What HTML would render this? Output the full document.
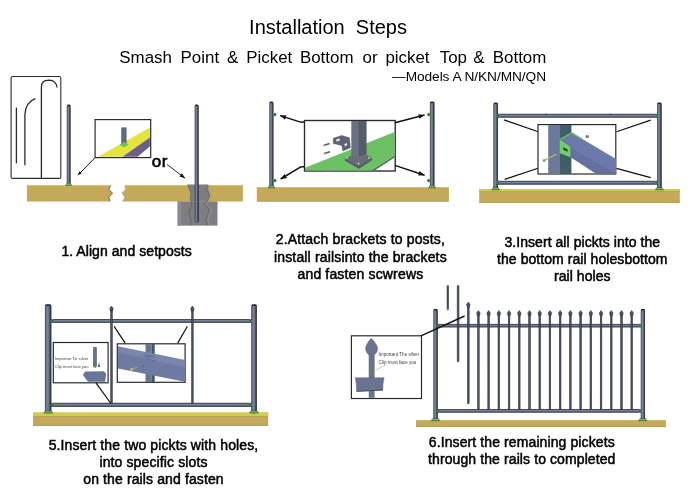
<!DOCTYPE html>
<html><head><meta charset="utf-8"><style>
html,body{margin:0;padding:0;background:#fff;width:700px;height:495px;overflow:hidden}
svg{display:block;will-change:transform}
text{font-family:"Liberation Sans",sans-serif}
</style></head><body>
<svg width="700" height="495" viewBox="0 0 700 495">
<text x="249.1" y="33.8" font-size="20" text-anchor="start" font-weight="normal" fill="#000" >Installation  Steps</text>
<text x="119.34117647058822" y="63.0" font-size="16.9" text-anchor="start" font-weight="normal" fill="#000" >Smash</text>
<text x="180.59607843137255" y="63.0" font-size="16.9" text-anchor="start" font-weight="normal" fill="#000" >Point</text>
<text x="226.97254901960784" y="63.0" font-size="16.9" text-anchor="start" font-weight="normal" fill="#000" >&amp;</text>
<text x="246.2392156862745" y="63.0" font-size="16.9" text-anchor="start" font-weight="normal" fill="#000" >Picket</text>
<text x="299.9568627450981" y="63.0" font-size="16.9" text-anchor="start" font-weight="normal" fill="#000" >Bottom</text>
<text x="362.54509803921565" y="63.0" font-size="16.9" text-anchor="start" font-weight="normal" fill="#000" >or</text>
<text x="385.3764705882353" y="63.0" font-size="16.9" text-anchor="start" font-weight="normal" fill="#000" >picket</text>
<text x="439.7725490196078" y="63.0" font-size="16.9" text-anchor="start" font-weight="normal" fill="#000" >Top</text>
<text x="473.2901960784314" y="63.0" font-size="16.9" text-anchor="start" font-weight="normal" fill="#000" >&amp;</text>
<text x="492.7960784313726" y="63.0" font-size="16.9" text-anchor="start" font-weight="normal" fill="#000" >Bottom</text>
<text x="392.0" y="80.8" font-size="13.7" text-anchor="start" font-weight="normal" fill="#000" letter-spacing="-0.06">—Models A N/KN/MN/QN</text>
<text x="61.4" y="255.7" font-size="14" text-anchor="start" font-weight="normal" fill="#000" stroke="#000" stroke-width="0.5" letter-spacing="0.06">1. Align and setposts</text>
<text x="360.4" y="243.8" font-size="14" text-anchor="middle" font-weight="normal" fill="#000" stroke="#000" stroke-width="0.5" letter-spacing="0.16">2.Attach brackets to posts,</text>
<text x="360.4" y="261.6" font-size="14" text-anchor="middle" font-weight="normal" fill="#000" stroke="#000" stroke-width="0.5" letter-spacing="0.16">install railsinto the brackets</text>
<text x="360.4" y="279.3" font-size="14" text-anchor="middle" font-weight="normal" fill="#000" stroke="#000" stroke-width="0.5" letter-spacing="0.16">and fasten scwrews</text>
<text x="582.3" y="247.3" font-size="14" text-anchor="middle" font-weight="normal" fill="#000" stroke="#000" stroke-width="0.5" letter-spacing="0.06">3.Insert all pickts into the</text>
<text x="582.3" y="264.4" font-size="14" text-anchor="middle" font-weight="normal" fill="#000" stroke="#000" stroke-width="0.5" letter-spacing="0.06">the bottom rail holesbottom</text>
<text x="582.3" y="281.3" font-size="14" text-anchor="middle" font-weight="normal" fill="#000" stroke="#000" stroke-width="0.5" letter-spacing="0.06">rail holes</text>
<text x="153.5" y="449.5" font-size="14" text-anchor="middle" font-weight="normal" fill="#000" stroke="#000" stroke-width="0.5" letter-spacing="0.12">5.Insert the two pickts with holes,</text>
<text x="153.5" y="466.6" font-size="14" text-anchor="middle" font-weight="normal" fill="#000" stroke="#000" stroke-width="0.5" letter-spacing="0.12">into specific slots</text>
<text x="153.5" y="483.8" font-size="14" text-anchor="middle" font-weight="normal" fill="#000" stroke="#000" stroke-width="0.5" letter-spacing="0.12">on the rails and fasten</text>
<text x="521.8" y="446.7" font-size="14" text-anchor="middle" font-weight="normal" fill="#000" stroke="#000" stroke-width="0.5" letter-spacing="0.1">6.Insert the remaining pickets</text>
<text x="521.8" y="463.8" font-size="14" text-anchor="middle" font-weight="normal" fill="#000" stroke="#000" stroke-width="0.5" letter-spacing="0.1">through the rails to completed</text>
<rect x="11.1" y="76.5" width="49.7" height="101.9" rx="1.5" fill="#fff" stroke="#2a2d32" stroke-width="1.1"/>
<line x1="16.4" y1="107.6" x2="16.4" y2="163.3" stroke="#2a2a2a" stroke-width="1.3"/>
<path d="M24.9 165.3 L24.9 114.8 Q25.5 102 35.3 98.6" fill="none" stroke="#2a2a2a" stroke-width="1.3"/>
<path d="M41.4 177.9 L41.4 87 Q41.4 80.2 49 80.2 Q56 80.5 57.1 87.5" fill="none" stroke="#2a2a2a" stroke-width="1.3"/>
<path d="M26.9 184.9 L111 184.9 L108.8 189.7 L112.6 193 L108.8 197.4 L110 201.4 L26.9 201.4 Z" fill="#c4a95a"/>
<path d="M111 184.9 L108.8 189.7 L112.6 193 L108.8 197.4 L110 201.4" fill="none" stroke="#4a4a50" stroke-width="0.8"/>
<path d="M124.9 184.9 L242.9 184.9 L242.9 201.5 L122.5 201.5 L124.8 197.4 L122 193 L125.5 189.7 Z" fill="#c4a95a"/>
<path d="M124.9 184.9 L125.5 189.7 L122 193 L124.8 197.4 L122.5 201.5" fill="none" stroke="#9a9aa0" stroke-width="0.6"/>
<rect x="26.9" y="184.9" width="84" height="1.2" fill="#d8cb46"/>
<rect x="124.9" y="184.9" width="118" height="1.2" fill="#d8cb46"/>
<rect x="177.6" y="201.4" width="39.9" height="24.2" fill="#7e7e81"/>
<rect x="177.6" y="201.4" width="3.4" height="24.2" fill="#8c8c8f"/>
<path d="M187.7 184.6 L191.2 193.6 L190.2 197.7 L191.2 201.5 L177.6 201.5 L177.6 201.4 L217.5 201.4 L210 201.4 L207.9 200.2 L209.9 195.2 L207.4 184.6 Z" fill="#7e7e81"/>
<path d="M187.7 184.6 L191.2 193.6 L190.2 197.7 L191.7 204.7 L188.7 213.3 L191.2 220.4 L190.7 225.4" fill="none" stroke="#55565c" stroke-width="0.7"/>
<path d="M207.4 184.6 L208.4 186.6 L205.8 189 L209.9 195.2 L207.9 200.2 L204.3 204.2 L209.4 209.3 L207.4 215.4 L205.8 219.4 L207.4 225.4" fill="none" stroke="#5a5b60" stroke-width="0.7"/>
<path d="M209.5 184.6 L210.4 186.6 L207.8 189 L211.9 195.2 L209.9 200.2 L206.3 204.2 L211.4 209.3 L209.4 215.4 L207.8 219.4 L209.4 225.4" fill="none" stroke="#a0a0a4" stroke-width="0.6"/>
<rect x="195.05" y="105.05" width="3.20" height="117.10" rx="1.17" ry="1" fill="#5a6479" stroke="#2a2e38" stroke-width="0.7"/>
<rect x="195.56" y="106.30" width="1.40" height="115.60" fill="#8492ad" opacity="0.7"/>
<rect x="197.62" y="105.70" width="0.98" height="116.30" fill="#2a2e38" opacity="0.65"/>
<rect x="195.00" y="104.70" width="3.30" height="1.3" rx="0.5" fill="#202329"/>
<rect x="67.15" y="105.05" width="3.00" height="79.60" rx="1.11" ry="1" fill="#5a6479" stroke="#2a2e38" stroke-width="0.7"/>
<rect x="67.61" y="106.30" width="1.33" height="78.10" fill="#8492ad" opacity="0.7"/>
<rect x="69.58" y="105.70" width="0.93" height="78.80" fill="#2a2e38" opacity="0.65"/>
<rect x="67.10" y="104.70" width="3.10" height="1.3" rx="0.5" fill="#202329"/>
<path d="M65.65 185.40 L67.25 183.10 L70.05 183.10 L71.65 185.40 Z" fill="#5ec654" stroke="#2f3b3a" stroke-width="0.55"/>
<rect x="95.1" y="119.6" width="55.599999999999994" height="38.0" fill="#fff" stroke="#262a30" stroke-width="1.19"/>
<polygon points="98,156.8 149.9,127.4 149.9,137.6 122.5,156.8" fill="#e4e43a"/>
<polygon points="122.5,156.8 149.9,137.6 149.9,146.6 137.5,156.8" fill="#6e5f86"/>
<rect x="121.2" y="127.4" width="5.4" height="17" fill="#5e6b7e"/>
<polygon points="119.5,144.7 124,142 128.5,144.7 124,147.3" fill="#5fc85a"/>
<line x1="95.1" y1="157.6" x2="79" y2="174" stroke="#111" stroke-width="1.0"/>
<polygon points="77.5,175.5 79.5,171.2 81.8,173.3" fill="#111"/>
<text x="151.8" y="166.8" font-size="17" text-anchor="start" font-weight="normal" fill="#000" stroke="#000" stroke-width="0.6" letter-spacing="0.5">or</text>
<line x1="167" y1="164.4" x2="185" y2="178.2" stroke="#111" stroke-width="0.9"/>
<polygon points="185.00,178.20 179.47,176.54 181.96,173.29" fill="#111"/>
<rect x="256.8" y="187.1" width="192.10" height="14.40" fill="#c4a95a"/>
<rect x="256.8" y="187.1" width="192.10" height="1.3" fill="#d0cd48"/>
<rect x="256.8" y="188.40" width="192.10" height="0.6" fill="#b8a04e"/>
<rect x="256.8" y="200.70" width="192.10" height="0.8" fill="#b39a50"/>
<rect x="269.75" y="102.05" width="3.30" height="84.80" rx="1.20" ry="1" fill="#5a6479" stroke="#2a2e38" stroke-width="0.7"/>
<rect x="270.28" y="103.30" width="1.44" height="83.30" fill="#8492ad" opacity="0.7"/>
<rect x="272.40" y="102.70" width="1.00" height="84.00" fill="#2a2e38" opacity="0.65"/>
<rect x="269.70" y="101.70" width="3.40" height="1.3" rx="0.5" fill="#202329"/>
<rect x="430.35" y="102.05" width="3.70" height="84.80" rx="1.32" ry="1" fill="#5a6479" stroke="#2a2e38" stroke-width="0.7"/>
<rect x="430.97" y="103.30" width="1.58" height="83.30" fill="#8492ad" opacity="0.7"/>
<rect x="433.30" y="102.70" width="1.10" height="84.00" fill="#2a2e38" opacity="0.65"/>
<rect x="430.30" y="101.70" width="3.80" height="1.3" rx="0.5" fill="#202329"/>
<ellipse cx="274.8" cy="114.6" rx="1.5" ry="1.35" fill="#34503a" stroke="#48b048" stroke-width="0.8"/>
<ellipse cx="274.8" cy="180.6" rx="1.5" ry="1.35" fill="#34503a" stroke="#48b048" stroke-width="0.8"/>
<ellipse cx="428.8" cy="114.6" rx="1.5" ry="1.35" fill="#34503a" stroke="#48b048" stroke-width="0.8"/>
<ellipse cx="428.8" cy="180.6" rx="1.5" ry="1.35" fill="#34503a" stroke="#48b048" stroke-width="0.8"/>
<path d="M267.90 187.70 L269.50 185.40 L273.30 185.40 L274.90 187.70 Z" fill="#5ec654" stroke="#2f3b3a" stroke-width="0.55"/>
<path d="M428.70 187.70 L430.30 185.40 L434.10 185.40 L435.70 187.70 Z" fill="#5ec654" stroke="#2f3b3a" stroke-width="0.55"/>
<rect x="304.5" y="120.5" width="90.69999999999999" height="50.5" fill="#fff" stroke="#262a30" stroke-width="1.36"/>
<svg x="305.3" y="121.3" width="89.1" height="48.9" viewBox="305.3 121.3 89.1 48.9">
<polygon points="305,167.8 394.5,132 394.5,155.7 371.4,170.5 305,170.5" fill="#6cc262"/>
<polygon points="371.4,170.5 394.5,155.7 394.5,157.6 374.5,170.5" fill="#3e6e60"/>
<path d="M333.3 138.3 L341.8 135.4 L349.4 137.8 L350.4 147.8 L342.8 151.1 L341.8 145.4 L333.3 143.5 Z" fill="#5d6373" stroke="#454a57" stroke-width="0.4"/>
<polygon points="336.3,139.5 339.8,138.4 339.8,140.6 336.3,141.6" fill="#f2f2f2"/>
<polygon points="344.5,144 347,143 347,145.5 344.5,146.3" fill="#e8e8e8"/>
<path d="M323.8 145.6 L329.5 143.6" stroke="#5a5e66" stroke-width="1.6"/>
<path d="M324.3 153.6 L330 151.7" stroke="#5a5e66" stroke-width="1.6"/>
<circle cx="324.3" cy="145.5" r="1.1" fill="#a89f70"/>
<circle cx="324.8" cy="153.5" r="1.1" fill="#a89f70"/>
<polygon points="351.3,121 359,121 359,156.8 351.3,156" fill="#6b7083"/>
<polygon points="359,121 366.6,121 366.6,154.8 359,156.8" fill="#575c6c"/>
<line x1="359" y1="121" x2="359" y2="156.8" stroke="#4a4f5c" stroke-width="0.4"/>
<polygon points="344.7,158.7 351.3,155.4 359,156.8 366.8,155 372.2,158.2 358.9,166.5" fill="#666b7e"/>
<polygon points="344.7,158.7 358.9,166.5 372.2,158.2 372.2,160 358.9,168.7 344.7,160.5" fill="#4f5466"/>
<circle cx="347.3" cy="157.9" r="0.9" fill="#d8cf8a"/>
<circle cx="368.9" cy="157.9" r="0.9" fill="#d8cf8a"/>
<circle cx="358.5" cy="163.6" r="1" fill="#d8cf8a"/>
</svg>
<line x1="304.3" y1="122.1" x2="300.3" y2="122.1" stroke="#111" stroke-width="1.5"/>
<line x1="300.6" y1="122.1" x2="280" y2="115.6" stroke="#111" stroke-width="1.5"/>
<polygon points="280.00,115.60 286.43,115.16 285.01,119.65" fill="#111"/>
<line x1="304.3" y1="166.8" x2="300.5" y2="166.8" stroke="#111" stroke-width="1.5"/>
<line x1="300.8" y1="166.8" x2="280.6" y2="179" stroke="#111" stroke-width="1.5"/>
<polygon points="280.60,179.00 284.52,173.89 286.95,177.91" fill="#111"/>
<line x1="394.9" y1="122.8" x2="424.6" y2="115" stroke="#111" stroke-width="1.5"/>
<polygon points="424.60,115.00 419.39,118.80 418.20,114.25" fill="#111"/>
<line x1="394.9" y1="165.4" x2="424.6" y2="175.2" stroke="#111" stroke-width="1.5"/>
<polygon points="424.60,175.20 418.17,175.55 419.64,171.09" fill="#111"/>
<rect x="479.2" y="189.1" width="200.60" height="13.70" fill="#c4a95a"/>
<rect x="479.2" y="189.1" width="200.60" height="2.0" fill="#d0cd48"/>
<rect x="479.2" y="191.10" width="200.60" height="0.6" fill="#b8a04e"/>
<rect x="479.2" y="202.00" width="200.60" height="0.8" fill="#b39a50"/>
<rect x="497" y="114.15" width="161.00" height="3.10" fill="#5a6479" stroke="#262a33" stroke-width="0.7"/>
<rect x="498" y="114.94" width="159.00" height="1.06" fill="#8c98b0" opacity="0.65"/>
<rect x="545.40" y="113.80" width="1.2" height="1.3" fill="#1e2128"/>
<rect x="610.00" y="113.80" width="1.2" height="1.3" fill="#1e2128"/>
<rect x="497" y="181.15" width="161.00" height="3.10" fill="#5a6479" stroke="#262a33" stroke-width="0.7"/>
<rect x="498" y="181.94" width="159.00" height="1.06" fill="#8c98b0" opacity="0.65"/>
<rect x="493.75" y="103.15" width="3.80" height="86.00" rx="1.35" ry="1" fill="#5a6479" stroke="#2a2e38" stroke-width="0.7"/>
<rect x="494.39" y="104.40" width="1.62" height="84.50" fill="#8492ad" opacity="0.7"/>
<rect x="496.77" y="103.80" width="1.12" height="85.20" fill="#2a2e38" opacity="0.65"/>
<rect x="493.70" y="102.80" width="3.90" height="1.3" rx="0.5" fill="#202329"/>
<rect x="657.55" y="103.05" width="3.70" height="86.30" rx="1.32" ry="1" fill="#5a6479" stroke="#2a2e38" stroke-width="0.7"/>
<rect x="658.17" y="104.30" width="1.58" height="84.80" fill="#8492ad" opacity="0.7"/>
<rect x="660.50" y="103.70" width="1.10" height="85.50" fill="#2a2e38" opacity="0.65"/>
<rect x="657.50" y="102.70" width="3.80" height="1.3" rx="0.5" fill="#202329"/>
<ellipse cx="498.5" cy="115.8" rx="1.4" ry="1.26" fill="#34503a" stroke="#48b048" stroke-width="0.8"/>
<ellipse cx="498.5" cy="182.5" rx="1.4" ry="1.26" fill="#34503a" stroke="#48b048" stroke-width="0.8"/>
<ellipse cx="656.3" cy="115.8" rx="1.4" ry="1.26" fill="#34503a" stroke="#48b048" stroke-width="0.8"/>
<ellipse cx="656.3" cy="182.5" rx="1.4" ry="1.26" fill="#34503a" stroke="#48b048" stroke-width="0.8"/>
<path d="M491.65 189.80 L493.25 187.50 L498.05 187.50 L499.65 189.80 Z" fill="#5ec654" stroke="#2f3b3a" stroke-width="0.55"/>
<path d="M655.40 189.80 L657.00 187.50 L661.80 187.50 L663.40 189.80 Z" fill="#5ec654" stroke="#2f3b3a" stroke-width="0.55"/>
<line x1="503.9" y1="119.9" x2="538.3" y2="131.7" stroke="#111" stroke-width="1.2"/>
<line x1="504.6" y1="179.4" x2="538" y2="168.3" stroke="#111" stroke-width="1.2"/>
<line x1="616.5" y1="131.7" x2="650.7" y2="120.1" stroke="#111" stroke-width="1.2"/>
<line x1="616.5" y1="168.3" x2="650.7" y2="177.6" stroke="#111" stroke-width="1.2"/>
<rect x="538" y="124.6" width="77.79999999999995" height="49.400000000000006" fill="#fff" stroke="#262a30" stroke-width="1.19"/>
<svg x="538.7" y="125.3" width="76.4" height="48" viewBox="538.7 125.3 76.4 48">
<rect x="548.2" y="125" width="11.8" height="49" fill="#6b7a9b"/>
<rect x="560" y="125" width="11.4" height="49" fill="#3f5e68"/>
<polygon points="570.5,146.8 616,173 616,175 598,175 570.5,157.3" fill="#6670a0"/>
<polygon points="560.5,139.5 571.8,132.7 616,159 616,173 570.5,146.8" fill="#6c79ab"/>
<line x1="570.7" y1="146.6" x2="616" y2="172.8" stroke="#56609a" stroke-width="0.5"/>
<polygon points="559.8,139.5 570.5,146.8 570.5,157.3 559.8,153.2" fill="#6fd06a"/>
<polyline points="560.2,139.3 571.8,132.7 582.7,139.5" fill="none" stroke="#5cc85a" stroke-width="1.4"/>
<polygon points="563.2,147.3 567.7,149.5 567.7,151.8 563.2,149.8" fill="#2e3450"/>
<line x1="544.1" y1="160.5" x2="556.4" y2="154.1" stroke="#b5ad7c" stroke-width="1.3"/>
<circle cx="544.1" cy="160.5" r="1.5" fill="#9d9870"/>
<circle cx="587.3" cy="136.4" r="1.7" fill="#6a6a6a"/>
<circle cx="587.8" cy="135.8" r="0.7" fill="#d0c890"/>
</svg>
<rect x="33.0" y="412.6" width="235.20" height="13.30" fill="#c4a95a"/>
<rect x="33.0" y="412.6" width="235.20" height="3.4" fill="#d0cd48"/>
<rect x="33.0" y="416.00" width="235.20" height="0.6" fill="#b8a04e"/>
<rect x="33.0" y="425.10" width="235.20" height="0.8" fill="#b39a50"/>
<rect x="51" y="319.35" width="201.00" height="3.10" fill="#5a6479" stroke="#262a33" stroke-width="0.7"/>
<rect x="52" y="320.14" width="199.00" height="1.06" fill="#8c98b0" opacity="0.65"/>
<rect x="51" y="403.15" width="201.00" height="3.40" fill="#5a6479" stroke="#262a33" stroke-width="0.7"/>
<rect x="52" y="404.03" width="199.00" height="1.15" fill="#8c98b0" opacity="0.65"/>
<rect x="110.70" y="310" width="1.6" height="93.5" fill="#485064" stroke="#2a2e38" stroke-width="0.55"/>
<path d="M111.50 306 L113.30 308.6 L112.50 311.2 L110.50 311.2 L109.70 308.6 Z" fill="#485064" stroke="#2a2e38" stroke-width="0.5"/>
<rect x="191.60" y="310" width="1.6" height="93.5" fill="#485064" stroke="#2a2e38" stroke-width="0.55"/>
<path d="M192.40 306 L194.20 308.6 L193.40 311.2 L191.40 311.2 L190.60 308.6 Z" fill="#485064" stroke="#2a2e38" stroke-width="0.5"/>
<rect x="45.35" y="304.85" width="5.60" height="108.00" rx="1.89" ry="1" fill="#5a6479" stroke="#2a2e38" stroke-width="0.7"/>
<rect x="46.39" y="306.10" width="2.27" height="106.50" fill="#8492ad" opacity="0.7"/>
<rect x="49.72" y="305.50" width="1.57" height="107.20" fill="#2a2e38" opacity="0.65"/>
<rect x="45.30" y="304.50" width="5.70" height="1.3" rx="0.5" fill="#202329"/>
<rect x="251.65" y="304.85" width="4.80" height="108.00" rx="1.65" ry="1" fill="#5a6479" stroke="#2a2e38" stroke-width="0.7"/>
<rect x="252.51" y="306.10" width="1.98" height="106.50" fill="#8492ad" opacity="0.7"/>
<rect x="255.43" y="305.50" width="1.38" height="107.20" fill="#2a2e38" opacity="0.65"/>
<rect x="251.60" y="304.50" width="4.90" height="1.3" rx="0.5" fill="#202329"/>
<ellipse cx="52.5" cy="320.9" rx="1.5" ry="1.35" fill="#34503a" stroke="#48b048" stroke-width="0.8"/>
<ellipse cx="52.5" cy="404.8" rx="1.5" ry="1.35" fill="#34503a" stroke="#48b048" stroke-width="0.8"/>
<ellipse cx="250.2" cy="320.9" rx="1.5" ry="1.35" fill="#34503a" stroke="#48b048" stroke-width="0.8"/>
<ellipse cx="250.2" cy="404.8" rx="1.5" ry="1.35" fill="#34503a" stroke="#48b048" stroke-width="0.8"/>
<path d="M43.70 413.00 L45.30 410.70 L51.10 410.70 L52.70 413.00 Z" fill="#5ec654" stroke="#2f3b3a" stroke-width="0.55"/>
<path d="M249.50 413.00 L251.10 410.70 L256.90 410.70 L258.50 413.00 Z" fill="#5ec654" stroke="#2f3b3a" stroke-width="0.55"/>
<rect x="53.3" y="342.5" width="54.8" height="40.30000000000001" fill="#fff" stroke="#262a30" stroke-width="1.19"/>
<text x="54.8" y="360.3" font-size="4.1" fill="#444">Importan:Tie silver</text>
<text x="54.8" y="367.9" font-size="4.1" fill="#444">Clip must face you</text>
<rect x="93" y="347.1" width="3.9" height="20" rx="1" fill="#6a7388"/>
<ellipse cx="95" cy="360.4" rx="0.9" ry="0.81" fill="#34503a" stroke="#48b048" stroke-width="0.8"/>
<ellipse cx="95" cy="366.7" rx="0.9" ry="0.81" fill="#34503a" stroke="#48b048" stroke-width="0.8"/>
<path d="M99 362 L100 367 L98 367 Z" fill="#3344cc"/>
<path d="M85 371.5 L104 371.3 L106.3 374 L105 381.8 L88 381.8 L83 375 Z" fill="#6a7699"/>
<line x1="96" y1="382.8" x2="110.5" y2="403" stroke="#111" stroke-width="1.2"/>
<rect x="117.3" y="343.8" width="67.8" height="38.5" fill="#fff" stroke="#262a30" stroke-width="1.19"/>
<svg x="118" y="344.5" width="66.4" height="37.1" viewBox="118 344.5 66.4 37.1">
<rect x="145.5" y="343" width="6" height="40" fill="#66768f"/>
<rect x="151.5" y="343" width="3.2" height="40" fill="#3f5c63"/>
<polygon points="117,346 185,360.1 185,367.7 117,352" fill="#7a86ab"/>
<polygon points="117,352 185,367.7 185,381.8 117,368.4" fill="#6e7aa2"/>
<line x1="117" y1="352" x2="185" y2="367.7" stroke="#5c6690" stroke-width="0.5"/>
<polygon points="142.8,355.2 145.5,354 154.7,356 155.8,357.4 147,358" fill="#6a759a"/>
</svg>
<circle cx="131.4" cy="369.5" r="1.3" fill="#d2c860"/>
<line x1="131.8" y1="369.2" x2="136.8" y2="367.5" stroke="#c8c070" stroke-width="0.8"/>
<circle cx="143.3" cy="366" r="0.7" fill="#555d80"/>
<line x1="114.1" y1="326.3" x2="125.2" y2="343.1" stroke="#111" stroke-width="1.2"/>
<line x1="187.4" y1="326.3" x2="177.7" y2="343.1" stroke="#111" stroke-width="1.2"/>
<rect x="416" y="420.2" width="250.00" height="6.70" fill="#c4a95a"/>
<rect x="416" y="426.10" width="250.00" height="0.8" fill="#b39a50"/>
<rect x="437.6" y="324.25" width="203.40" height="2.80" fill="#5a6479" stroke="#262a33" stroke-width="0.7"/>
<rect x="438.6" y="324.95" width="201.40" height="0.98" fill="#8c98b0" opacity="0.65"/>
<rect x="437.6" y="409.35" width="203.40" height="2.90" fill="#5a6479" stroke="#262a33" stroke-width="0.7"/>
<rect x="438.6" y="410.08" width="201.40" height="1.01" fill="#8c98b0" opacity="0.65"/>
<rect x="477.60" y="314.5" width="1.6" height="95.0" fill="#485064" stroke="#2a2e38" stroke-width="0.55"/>
<path d="M478.40 310.5 L480.20 313.1 L479.40 315.7 L477.40 315.7 L476.60 313.1 Z" fill="#485064" stroke="#2a2e38" stroke-width="0.5"/>
<rect x="487.82" y="314.5" width="1.6" height="95.0" fill="#485064" stroke="#2a2e38" stroke-width="0.55"/>
<path d="M488.62 310.5 L490.42 313.1 L489.62 315.7 L487.62 315.7 L486.82 313.1 Z" fill="#485064" stroke="#2a2e38" stroke-width="0.5"/>
<rect x="498.04" y="314.5" width="1.6" height="95.0" fill="#485064" stroke="#2a2e38" stroke-width="0.55"/>
<path d="M498.84 310.5 L500.64 313.1 L499.84 315.7 L497.84 315.7 L497.04 313.1 Z" fill="#485064" stroke="#2a2e38" stroke-width="0.5"/>
<rect x="508.26" y="314.5" width="1.6" height="95.0" fill="#485064" stroke="#2a2e38" stroke-width="0.55"/>
<path d="M509.06 310.5 L510.86 313.1 L510.06 315.7 L508.06 315.7 L507.26 313.1 Z" fill="#485064" stroke="#2a2e38" stroke-width="0.5"/>
<rect x="518.48" y="314.5" width="1.6" height="95.0" fill="#485064" stroke="#2a2e38" stroke-width="0.55"/>
<path d="M519.28 310.5 L521.08 313.1 L520.28 315.7 L518.28 315.7 L517.48 313.1 Z" fill="#485064" stroke="#2a2e38" stroke-width="0.5"/>
<rect x="528.70" y="314.5" width="1.6" height="95.0" fill="#485064" stroke="#2a2e38" stroke-width="0.55"/>
<path d="M529.50 310.5 L531.30 313.1 L530.50 315.7 L528.50 315.7 L527.70 313.1 Z" fill="#485064" stroke="#2a2e38" stroke-width="0.5"/>
<rect x="538.92" y="314.5" width="1.6" height="95.0" fill="#485064" stroke="#2a2e38" stroke-width="0.55"/>
<path d="M539.72 310.5 L541.52 313.1 L540.72 315.7 L538.72 315.7 L537.92 313.1 Z" fill="#485064" stroke="#2a2e38" stroke-width="0.5"/>
<rect x="549.14" y="314.5" width="1.6" height="95.0" fill="#485064" stroke="#2a2e38" stroke-width="0.55"/>
<path d="M549.94 310.5 L551.74 313.1 L550.94 315.7 L548.94 315.7 L548.14 313.1 Z" fill="#485064" stroke="#2a2e38" stroke-width="0.5"/>
<rect x="559.36" y="314.5" width="1.6" height="95.0" fill="#485064" stroke="#2a2e38" stroke-width="0.55"/>
<path d="M560.16 310.5 L561.96 313.1 L561.16 315.7 L559.16 315.7 L558.36 313.1 Z" fill="#485064" stroke="#2a2e38" stroke-width="0.5"/>
<rect x="569.58" y="314.5" width="1.6" height="95.0" fill="#485064" stroke="#2a2e38" stroke-width="0.55"/>
<path d="M570.38 310.5 L572.18 313.1 L571.38 315.7 L569.38 315.7 L568.58 313.1 Z" fill="#485064" stroke="#2a2e38" stroke-width="0.5"/>
<rect x="579.80" y="314.5" width="1.6" height="95.0" fill="#485064" stroke="#2a2e38" stroke-width="0.55"/>
<path d="M580.60 310.5 L582.40 313.1 L581.60 315.7 L579.60 315.7 L578.80 313.1 Z" fill="#485064" stroke="#2a2e38" stroke-width="0.5"/>
<rect x="590.02" y="314.5" width="1.6" height="95.0" fill="#485064" stroke="#2a2e38" stroke-width="0.55"/>
<path d="M590.82 310.5 L592.62 313.1 L591.82 315.7 L589.82 315.7 L589.02 313.1 Z" fill="#485064" stroke="#2a2e38" stroke-width="0.5"/>
<rect x="600.24" y="314.5" width="1.6" height="95.0" fill="#485064" stroke="#2a2e38" stroke-width="0.55"/>
<path d="M601.04 310.5 L602.84 313.1 L602.04 315.7 L600.04 315.7 L599.24 313.1 Z" fill="#485064" stroke="#2a2e38" stroke-width="0.5"/>
<rect x="610.46" y="314.5" width="1.6" height="95.0" fill="#485064" stroke="#2a2e38" stroke-width="0.55"/>
<path d="M611.26 310.5 L613.06 313.1 L612.26 315.7 L610.26 315.7 L609.46 313.1 Z" fill="#485064" stroke="#2a2e38" stroke-width="0.5"/>
<rect x="620.68" y="314.5" width="1.6" height="95.0" fill="#485064" stroke="#2a2e38" stroke-width="0.55"/>
<path d="M621.48 310.5 L623.28 313.1 L622.48 315.7 L620.48 315.7 L619.68 313.1 Z" fill="#485064" stroke="#2a2e38" stroke-width="0.5"/>
<rect x="630.90" y="314.5" width="1.6" height="95.0" fill="#485064" stroke="#2a2e38" stroke-width="0.55"/>
<path d="M631.70 310.5 L633.50 313.1 L632.70 315.7 L630.70 315.7 L629.90 313.1 Z" fill="#485064" stroke="#2a2e38" stroke-width="0.5"/>
<rect x="467.45" y="306" width="1.7" height="97.60000000000002" fill="#485064" stroke="#2a2e38" stroke-width="0.55"/>
<path d="M468.30 302 L470.10 304.6 L469.30 307.2 L467.30 307.2 L466.50 304.6 Z" fill="#485064" stroke="#2a2e38" stroke-width="0.5"/>
<rect x="447.05" y="285.4" width="1.5" height="24.400000000000034" rx="0.6" fill="#485064" stroke="#2a2e38" stroke-width="0.55"/>
<ellipse cx="447.8" cy="309.2" rx="0.7" ry="0.63" fill="#34503a" stroke="#48b048" stroke-width="0.8"/>
<rect x="457.25" y="285.4" width="1.7" height="76.40000000000003" rx="0.6" fill="#485064" stroke="#2a2e38" stroke-width="0.55"/>
<rect x="433.75" y="309.35" width="3.60" height="110.30" rx="1.29" ry="1" fill="#5a6479" stroke="#2a2e38" stroke-width="0.7"/>
<rect x="434.35" y="310.60" width="1.55" height="108.80" fill="#8492ad" opacity="0.7"/>
<rect x="436.62" y="310.00" width="1.08" height="109.50" fill="#2a2e38" opacity="0.65"/>
<rect x="433.70" y="309.00" width="3.70" height="1.3" rx="0.5" fill="#202329"/>
<rect x="641.15" y="309.35" width="3.40" height="109.90" rx="1.23" ry="1" fill="#5a6479" stroke="#2a2e38" stroke-width="0.7"/>
<rect x="641.70" y="310.60" width="1.48" height="108.40" fill="#8492ad" opacity="0.7"/>
<rect x="643.88" y="310.00" width="1.03" height="109.10" fill="#2a2e38" opacity="0.65"/>
<rect x="641.10" y="309.00" width="3.50" height="1.3" rx="0.5" fill="#202329"/>
<ellipse cx="438.6" cy="325.6" rx="1.4" ry="1.26" fill="#34503a" stroke="#48b048" stroke-width="0.8"/>
<ellipse cx="438.6" cy="410.8" rx="1.4" ry="1.26" fill="#34503a" stroke="#48b048" stroke-width="0.8"/>
<ellipse cx="640" cy="325.6" rx="1.4" ry="1.26" fill="#34503a" stroke="#48b048" stroke-width="0.8"/>
<ellipse cx="640" cy="410.8" rx="1.4" ry="1.26" fill="#34503a" stroke="#48b048" stroke-width="0.8"/>
<path d="M431.25 420.70 L432.85 418.40 L438.15 418.40 L439.75 420.70 Z" fill="#5ec654" stroke="#2f3b3a" stroke-width="0.55"/>
<path d="M638.60 420.70 L640.20 418.40 L645.50 418.40 L647.10 420.70 Z" fill="#5ec654" stroke="#2f3b3a" stroke-width="0.55"/>
<rect x="351.4" y="335.8" width="70.10000000000002" height="62.69999999999999" fill="#fff" stroke="#262a30" stroke-width="1.19"/>
<path d="M371.3 338.2 C373.5 340.5 377.6 345 377.6 348.6 C377.6 352 375.6 354 374.3 355 L374.3 397.6 L369 397.6 L369 355 C367.6 354 365.6 352 365.6 348.6 C365.6 345 369.2 340.5 371.3 338.2 Z" fill="#6a7490" stroke="#4a5268" stroke-width="0.4"/>
<path d="M355.3 377.7 L384.1 377.7 Q382.6 384 382.8 390.2 L356.6 391.6 Q356.8 384 355.3 377.7 Z" fill="#6a7490" stroke="#4f576c" stroke-width="0.4"/>
<line x1="356.6" y1="391.3" x2="382.8" y2="390" stroke="#3c4356" stroke-width="0.7"/>
<ellipse cx="371.5" cy="370.9" rx="1" ry="0.9" fill="#34503a" stroke="#48b048" stroke-width="0.8"/>
<line x1="375.3" y1="370.2" x2="386.7" y2="364.5" stroke="#777" stroke-width="0.4"/>
<text x="378.6" y="355.5" font-size="4.6" fill="#444">Important:The silver</text>
<text x="378.6" y="363.5" font-size="4.6" fill="#444">Clip must face you</text>
<line x1="421.0" y1="335.9" x2="464.6" y2="316" stroke="#111" stroke-width="1.4"/>
</svg>
</body></html>
